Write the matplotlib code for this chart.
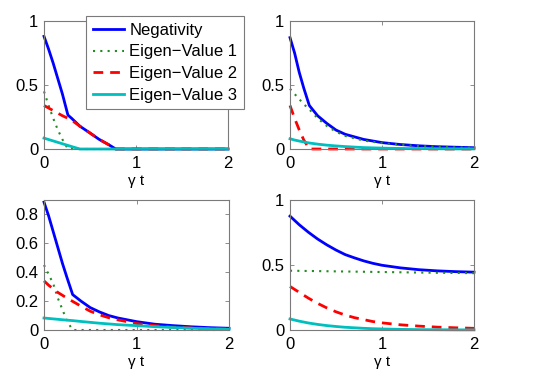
import matplotlib
matplotlib.use("Agg")
import matplotlib.pyplot as plt

plt.rcParams["font.family"] = ["Liberation Sans", "DejaVu Sans"]

# ---------------------------------------------------------------------------
# Data (gamma*t on x, eigenvalue magnitude on y)
# ---------------------------------------------------------------------------
# panel (a) top-left
t_a = [0, 0.05, 0.1, 0.15, 0.2, 0.26, 0.3, 0.39, 0.5, 0.6, 0.7, 0.78, 1.0, 1.5, 2.0]
neg_a = [0.88, 0.78, 0.67, 0.55, 0.43, 0.265, 0.24, 0.178, 0.125, 0.075, 0.035, 0, 0, 0, 0]
ev1_a = [0.45, 0.34, 0.24, 0.15, 0.075, 0, 0, 0, 0, 0, 0, 0, 0, 0, 0]
ev2_a = [0.34, 0.32, 0.30, 0.28, 0.26, 0.24, 0.225, 0.178, 0.125, 0.075, 0.035, 0, 0, 0, 0]
ev3_a = [0.085, 0.074, 0.063, 0.052, 0.041, 0.028, 0.019, 0, 0, 0, 0, 0, 0, 0, 0]

# panel (b) top-right
t_b = [0, 0.05, 0.1, 0.15, 0.21, 0.3, 0.4, 0.5, 0.6, 0.8, 1.0, 1.2, 1.4, 1.6, 1.8, 2.0]
neg_b = [0.87, 0.75, 0.60, 0.475, 0.34, 0.26, 0.20, 0.148, 0.115, 0.075, 0.05, 0.035, 0.025, 0.018, 0.014, 0.01]
ev1_b = [0.47, 0.43, 0.39, 0.35, 0.31, 0.24, 0.18, 0.135, 0.102, 0.066, 0.046, 0.033, 0.024, 0.017, 0.013, 0.01]
ev2_b = [0.34, 0.24, 0.15, 0.07, 0, 0, 0, 0, 0, 0, 0, 0, 0, 0, 0, 0]
ev3_b = [0.08, 0.07, 0.062, 0.055, 0.047, 0.038, 0.03, 0.024, 0.019, 0.011, 0.007, 0.004, 0.003, 0.002, 0.001, 0.001]

# panel (c) bottom-left
t_c = [0, 0.05, 0.1, 0.15, 0.2, 0.25, 0.31, 0.4, 0.5, 0.6, 0.7, 0.8, 1.0, 1.2, 1.4, 1.6, 1.8, 2.0]
neg_c = [0.885, 0.79, 0.68, 0.57, 0.46, 0.36, 0.245, 0.2, 0.155, 0.125, 0.1, 0.083, 0.058, 0.04, 0.03, 0.022, 0.016, 0.012]
ev1_c = [0.45, 0.385, 0.32, 0.22, 0.14, 0.06, 0, 0, 0, 0, 0, 0, 0, 0, 0, 0, 0, 0]
ev2_c = [0.34, 0.31, 0.285, 0.26, 0.24, 0.22, 0.198, 0.165, 0.13, 0.105, 0.085, 0.07, 0.045, 0.03, 0.02, 0.014, 0.009, 0.006]
ev3_c = [0.083, 0.08, 0.077, 0.074, 0.071, 0.068, 0.065, 0.059, 0.053, 0.047, 0.042, 0.037, 0.03, 0.023, 0.017, 0.012, 0.008, 0.005]

# panel (d) bottom-right
t_d = [0, 0.1, 0.2, 0.3, 0.4, 0.5, 0.6, 0.7, 0.8, 0.9, 1.0, 1.2, 1.4, 1.6, 1.8, 2.0]
neg_d = [0.876, 0.81, 0.752, 0.70, 0.655, 0.615, 0.58, 0.555, 0.532, 0.513, 0.498, 0.478, 0.464, 0.455, 0.449, 0.445]
ev1_d = [0.456, 0.455, 0.454, 0.453, 0.452, 0.451, 0.45, 0.449, 0.448, 0.447, 0.446, 0.444, 0.442, 0.44, 0.439, 0.437]
ev2_d = [0.335, 0.29, 0.245, 0.205, 0.17, 0.14, 0.115, 0.095, 0.08, 0.065, 0.055, 0.04, 0.03, 0.022, 0.017, 0.013]
ev3_d = [0.085, 0.068, 0.054, 0.043, 0.034, 0.027, 0.021, 0.017, 0.013, 0.01, 0.008, 0.005, 0.003, 0.002, 0.001, 0.001]

labels = ["Negativity", "Eigen\u2212Value 1", "Eigen\u2212Value 2", "Eigen\u2212Value 3"]

panels = [
    (t_a, neg_a, ev1_a, ev2_a, ev3_a, 1.0, [0, 0.5, 1], ["0", "0.5", "1"]),
    (t_b, neg_b, ev1_b, ev2_b, ev3_b, 1.0, [0, 0.5, 1], ["0", "0.5", "1"]),
    (t_c, neg_c, ev1_c, ev2_c, ev3_c, 0.9, [0, 0.2, 0.4, 0.6, 0.8], ["0", "0.2", "0.4", "0.6", "0.8"]),
    (t_d, neg_d, ev1_d, ev2_d, ev3_d, 1.0, [0, 0.5, 1], ["0", "0.5", "1"]),
]

W, H = 549, 382
# axes boxes in pixels: (left, top, right, bottom)
boxes = [
    (44, 21, 228, 149),
    (290, 21, 474, 149),
    (44, 200, 229, 330),
    (290, 200, 474, 330),
]

frame_color = "#7a7a7a"

fig = plt.figure(figsize=(W / 100, H / 100), dpi=100)

handles = None
for (t, neg, ev1, ev2, ev3, ytop, yt, ytl), (l, tp, r, b) in zip(panels, boxes):
    ax = fig.add_axes([l / W, 1 - b / H, (r - l) / W, (b - tp) / H])
    h1, = ax.plot(t, neg, color="#0000ff", lw=2.0, clip_on=False)
    h2, = ax.plot(t, ev1, color="#228b22", lw=1.5, ls=(0, (1, 2.5)), clip_on=False)
    h3, = ax.plot(t, ev2, color="#ff0000", lw=2.0, ls=(0, (3.5, 2.5)), clip_on=False)
    h4, = ax.plot(t, ev3, color="#00bfbf", lw=2.0, clip_on=False)
    handles = [h1, h2, h3, h4]

    ax.set_xlim(0, 2)
    ax.set_ylim(0, ytop)
    ax.set_xticks([0, 1, 2])
    ax.set_xticklabels(["0", "1", "2"])
    ax.set_yticks(yt)
    ax.set_yticklabels(ytl)
    ax.tick_params(direction="in", length=3, width=0.6, colors=frame_color,
                   labelcolor="black", labelsize=12, top=True, right=True)
    ax.tick_params(axis="x", pad=5)
    ax.tick_params(axis="y", pad=4)
    for sp in ax.spines.values():
        sp.set_color(frame_color)
        sp.set_linewidth(0.8)
    ax.set_xlabel("\u03b3 t", fontsize=11, labelpad=2)

leg = fig.legend(
    handles, labels,
    loc="upper left",
    bbox_to_anchor=(86 / W, 1 - 16 / H),
    bbox_transform=fig.transFigure,
    borderaxespad=0,
    fancybox=False,
    framealpha=1,
    edgecolor=frame_color,
    fontsize=12,
    handlelength=1.9,
    handletextpad=0.3,
    labelspacing=0.4,
    borderpad=0.4,
)
leg.get_frame().set_linewidth(0.8)

fig.savefig("out.png", dpi=100)
